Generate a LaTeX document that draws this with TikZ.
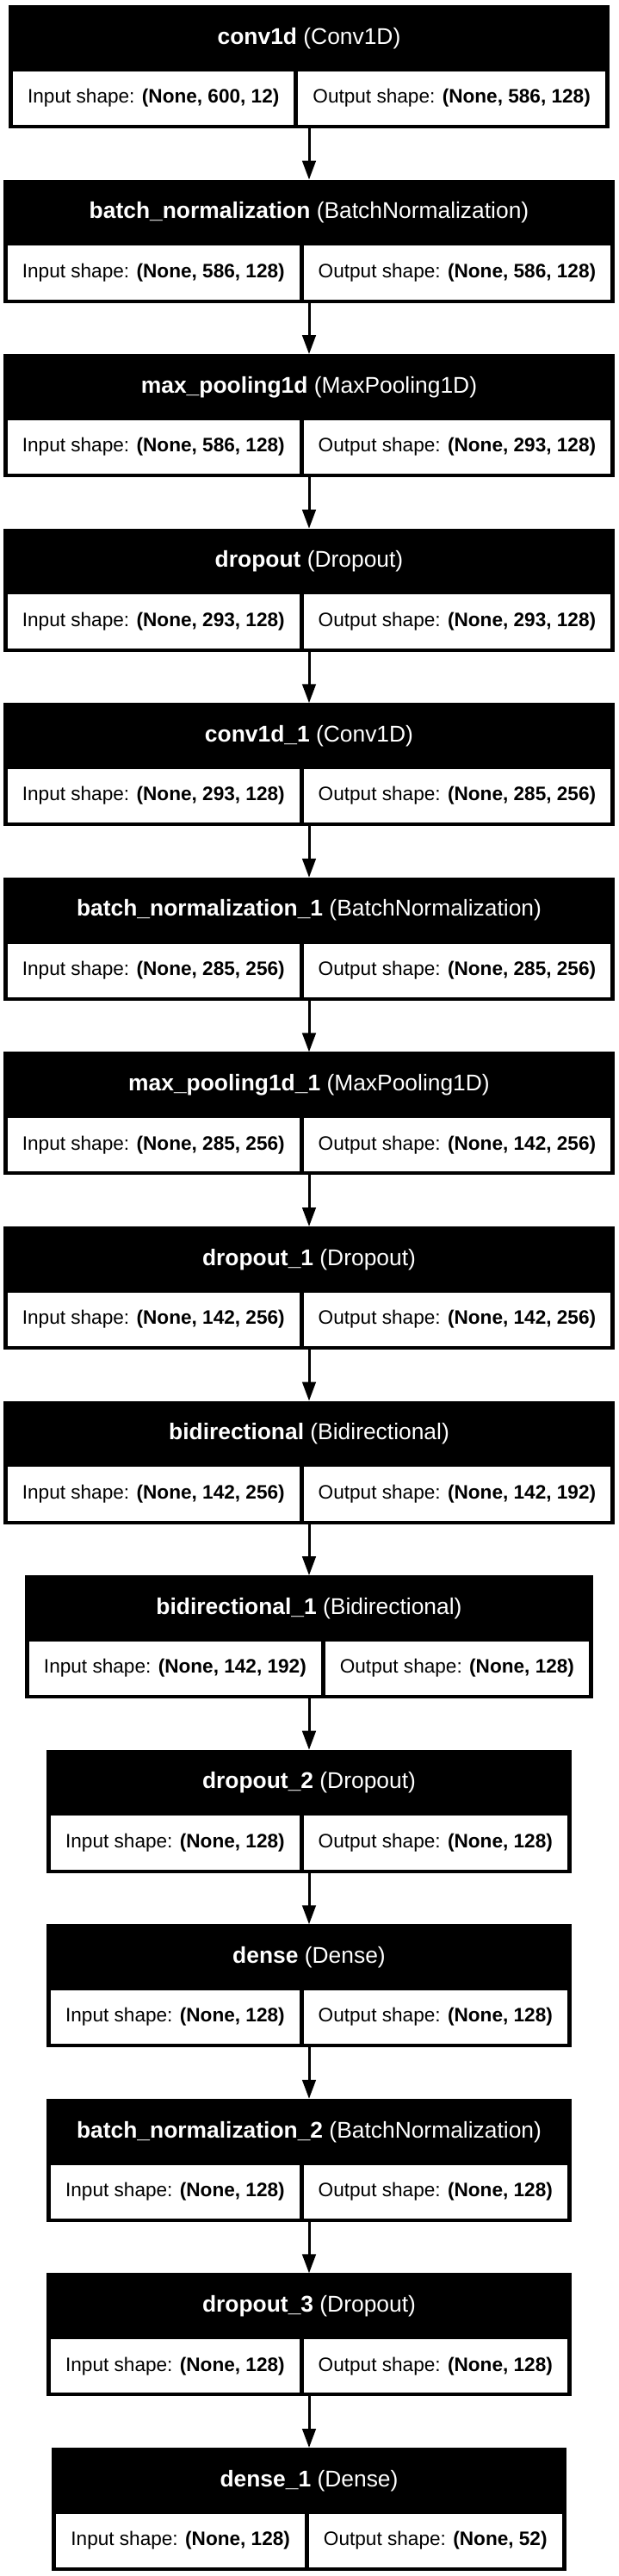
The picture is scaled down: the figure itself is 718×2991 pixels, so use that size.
\documentclass[tikz,border=0pt]{standalone}
\usepackage{fontspec}
\setmainfont{Liberation Sans}
\usetikzlibrary{arrows.meta}
\newlength\wlen
\newlength\wlenR
\newcommand\cellfont{\fontsize{22.6}{27}\selectfont}
\newcommand\hdrfont{\fontsize{26.4}{31}\selectfont}
\tikzset{
  blk/.style={fill=black, inner sep=0pt, outer sep=0pt, minimum height=143pt},
  cellbox/.style={fill=white, inner sep=0pt, outer sep=0pt, minimum height=62.3pt, font=\cellfont, text=black},
  hdr/.style={inner sep=0pt, text=white, font=\hdrfont},
  flow/.style={line width=3pt, -{Triangle[length=22pt,width=15.5pt]}},
}
% pass 1: measure the cell texts (outside the picture)
\newcommand\measureblock[6]{%
  \settowidth\wlen{\cellfont Input shape: \textbf{#5}}%
  \settowidth\wlenR{\cellfont Output shape: \textbf{#6}}%
  \expandafter\xdef\csname wl#1\endcsname{\the\wlen}%
  \expandafter\xdef\csname wr#1\endcsname{\the\wlenR}%
}
% pass 2: draw
\newcommand\drawblock[6]{%
  \pgfmathsetmacro\cellL{\csname wl#1\endcsname+34}%
  \pgfmathsetmacro\cellR{\csname wr#1\endcsname+34}%
  \pgfmathsetmacro\blkW{\cellL+\cellR+15}%
  \pgfmathsetmacro\blkY{-(6+202.57*#2)}%
  \node[blk, minimum width=\blkW pt, anchor=north] (#1) at (359,\blkY) {};
  \node[cellbox, minimum width=\cellL pt, anchor=south west] (#1-in) at ([xshift=5pt,yshift=4pt]#1.south west) {Input shape: \textbf{#5}};
  \node[cellbox, minimum width=\cellR pt, anchor=south east] (#1-out) at ([xshift=-5pt,yshift=4pt]#1.south east) {Output shape: \textbf{#6}};
  \node[hdr] (#1-title) at ([yshift=-38.3pt]#1.north) {\textbf{#3} #4};
}
\newcommand\allblocks{%
\layerblock{b0}{0}{conv1d}{(Conv1D)}{(None, 600, 12)}{(None, 586, 128)}%
\layerblock{b1}{1}{batch\_normalization}{(BatchNormalization)}{(None, 586, 128)}{(None, 586, 128)}%
\layerblock{b2}{2}{max\_pooling1d}{(MaxPooling1D)}{(None, 586, 128)}{(None, 293, 128)}%
\layerblock{b3}{3}{dropout}{(Dropout)}{(None, 293, 128)}{(None, 293, 128)}%
\layerblock{b4}{4}{conv1d\_1}{(Conv1D)}{(None, 293, 128)}{(None, 285, 256)}%
\layerblock{b5}{5}{batch\_normalization\_1}{(BatchNormalization)}{(None, 285, 256)}{(None, 285, 256)}%
\layerblock{b6}{6}{max\_pooling1d\_1}{(MaxPooling1D)}{(None, 285, 256)}{(None, 142, 256)}%
\layerblock{b7}{7}{dropout\_1}{(Dropout)}{(None, 142, 256)}{(None, 142, 256)}%
\layerblock{b8}{8}{bidirectional}{(Bidirectional)}{(None, 142, 256)}{(None, 142, 192)}%
\layerblock{b9}{9}{bidirectional\_1}{(Bidirectional)}{(None, 142, 192)}{(None, 128)}%
\layerblock{b10}{10}{dropout\_2}{(Dropout)}{(None, 128)}{(None, 128)}%
\layerblock{b11}{11}{dense}{(Dense)}{(None, 128)}{(None, 128)}%
\layerblock{b12}{12}{batch\_normalization\_2}{(BatchNormalization)}{(None, 128)}{(None, 128)}%
\layerblock{b13}{13}{dropout\_3}{(Dropout)}{(None, 128)}{(None, 128)}%
\layerblock{b14}{14}{dense\_1}{(Dense)}{(None, 128)}{(None, 52)}%
}
\begin{document}
\let\layerblock\measureblock
\allblocks
\let\layerblock\drawblock
\begin{tikzpicture}[x=1pt,y=1pt]
\fill[white] (0,0) rectangle (718,-2991);
\useasboundingbox (0,0) rectangle (718,-2991);
\allblocks
\foreach \a/\b in {b0/b1,b1/b2,b2/b3,b3/b4,b4/b5,b5/b6,b6/b7,b7/b8,b8/b9,b9/b10,b10/b11,b11/b12,b12/b13,b13/b14}
  \draw[flow] (\a.south) -- (\b.north);
\end{tikzpicture}
\end{document}
